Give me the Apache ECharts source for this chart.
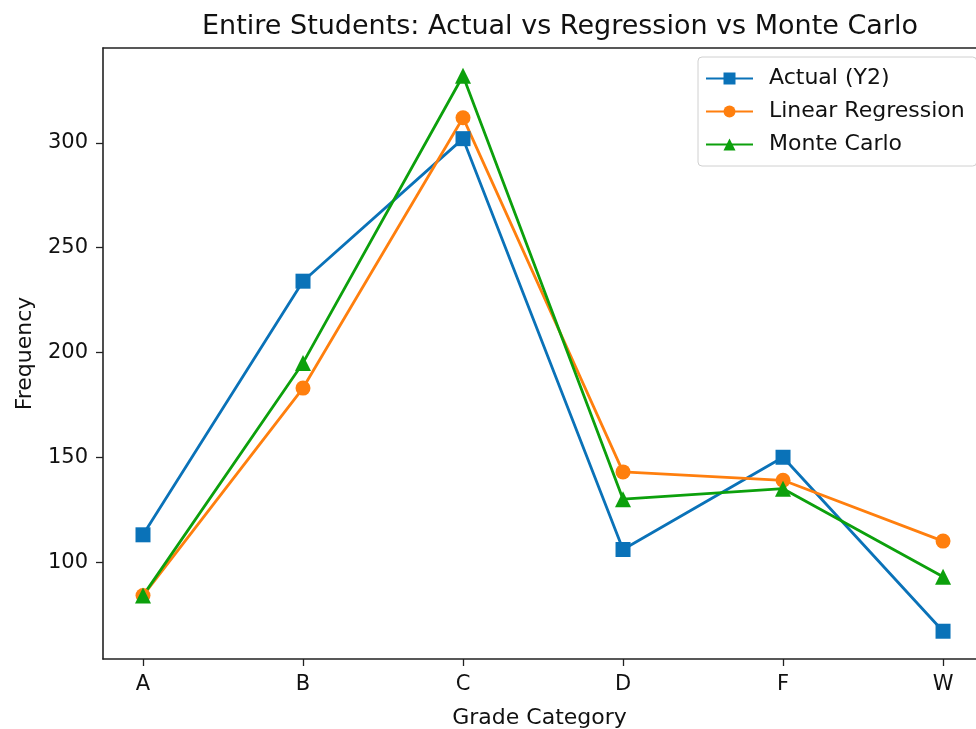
<!DOCTYPE html>
<html>
<head>
<meta charset="utf-8">
<script src="https://cdn.jsdelivr.net/npm/echarts@6/dist/echarts.min.js"></script>
<style>
    html, body { margin: 0; padding: 0; background: #fff; }
    #chart-main { width: 976px; height: 729px; }
</style>
</head>
<body>
<div id="chart-main"></div>
<script>
// values
let categories = ["A", "B", "C", "D", "F", "W"];
let actualY2 = [113, 234, 302, 106, 150, 67];
let linearRegression = [84, 183, 312, 143, 139, 110];
let monteCarlo = [84, 195, 332, 130, 135, 93];
let yTicks = [100, 150, 200, 250, 300];
let xTicks = [0, 1, 2, 3, 4, 5];

let fontMain = '"DejaVu Sans", sans-serif';
let myChart = echarts.init(document.getElementById("chart-main"));

function toPoints(values) {
    return values.map((v, i) => [i, v]);
}

function lineSeries(name, values, color, symbol, size) {
    return {
        name: name,
        type: "line",
        data: toPoints(values),
        symbol: symbol,
        symbolSize: size,
        lineStyle: { color: color, width: 2.8 },
        itemStyle: { color: color },
        emphasis: { disabled: true },
        animation: false,
    };
}

let axisLineStyle = { color: "#222", width: 1.6 };

let option = {
    backgroundColor: "#fff",
    textStyle: { fontFamily: fontMain, color: "#000" },
    title: {
        text: "Entire Students: Actual vs Regression vs Monte Carlo",
        left: 555,
        top: 8,
        textAlign: "center",
        textStyle: { fontFamily: fontMain, fontSize: 27, fontWeight: "normal", color: "#111" },
    },
    legend: {
        orient: "vertical",
        left: 698,
        top: 57,
        padding: [9, 12, 9, 7],
        itemWidth: 47,
        itemHeight: 15,
        itemGap: 8,
        borderColor: "#d0d0d0",
        borderWidth: 1,
        borderRadius: 4,
        backgroundColor: "rgba(255,255,255,0.85)",
        textStyle: { fontFamily: fontMain, fontSize: 22, color: "#111", lineHeight: 25, padding: [0, 0, 0, 11] },
        data: ["Actual (Y2)", "Linear Regression", "Monte Carlo"],
    },
    grid: {
        left: 103,
        top: 48,
        right: 0,
        bottom: 70,
        show: false,
        outerBoundsMode: "none",
    },
    xAxis: [
        {
            type: "value",
            min: -0.25,
            max: 5.206,
            name: "Grade Category",
            nameLocation: "middle",
            nameGap: 48,
            nameTextStyle: { fontFamily: fontMain, fontSize: 22, color: "#111" },
            axisLine: { show: true, onZero: false, lineStyle: axisLineStyle },
            axisTick: { show: true, length: 7, customValues: xTicks, lineStyle: { color: "#222", width: 1.3 } },
            axisLabel: {
                customValues: xTicks,
                formatter: (v) => categories[Math.round(v)],
                fontFamily: fontMain,
                fontSize: 21,
                color: "#111",
                margin: 15,
            },
            splitLine: { show: false },
        },
        {
            type: "value",
            position: "top",
            min: -0.25,
            max: 5.206,
            axisLine: { show: true, onZero: false, lineStyle: axisLineStyle },
            axisTick: { show: false },
            axisLabel: { show: false },
            splitLine: { show: false },
        },
    ],
    yAxis: {
        type: "value",
        min: 53.75,
        max: 345.25,
        name: "Frequency",
        nameLocation: "middle",
        nameGap: 67,
        nameTextStyle: { fontFamily: fontMain, fontSize: 22, color: "#111" },
        axisLine: { show: true, onZero: false, lineStyle: axisLineStyle },
        axisTick: { show: true, length: 7, customValues: yTicks, lineStyle: { color: "#222", width: 1.3 } },
        axisLabel: {
            customValues: yTicks,
            fontFamily: fontMain,
            fontSize: 21,
            color: "#111",
            margin: 15,
        },
        splitLine: { show: false },
    },
    series: [
        lineSeries("Actual (Y2)", actualY2, "#0a72b8", "rect", 15),
        lineSeries("Linear Regression", linearRegression, "#ff7f0e", "circle", 15),
        lineSeries("Monte Carlo", monteCarlo, "#0ca00c", "triangle", 16),
    ],
};
option && myChart.setOption(option);
</script>
</body>
</html>
